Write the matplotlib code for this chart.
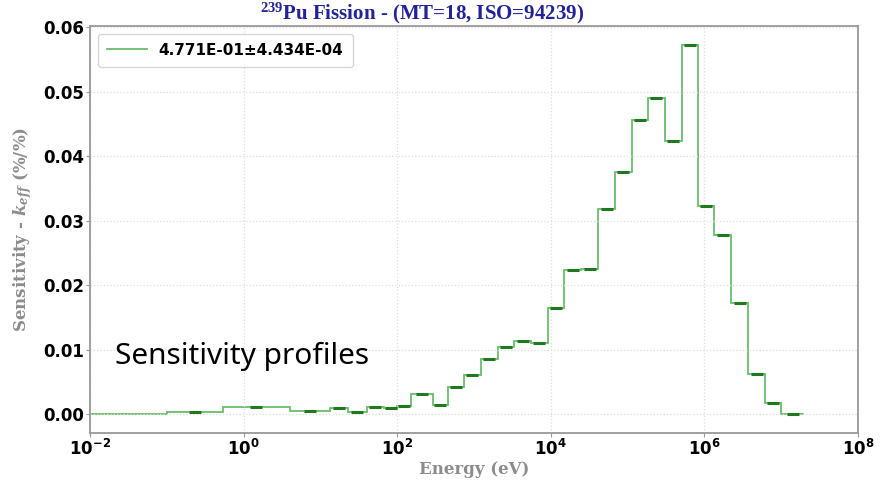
import matplotlib
matplotlib.use("Agg")
import matplotlib.pyplot as plt
import numpy as np

plt.rcParams.update({
    'mathtext.fontset': 'custom',
    'mathtext.rm': 'Liberation Serif',
    'mathtext.bf': 'Liberation Serif:bold',
    'mathtext.it': 'DejaVu Serif:italic:bold',
})

# energy group boundaries (eV) and sensitivity per group
energy_edges = [1e-5, 0.1, 0.54, 4.0, 13.3, 22.7, 40, 67, 100, 151, 292, 455,
                741, 1230, 2030, 3350, 5520, 9120, 15000, 24900, 41500, 68500,
                113000, 183000, 307000, 506000, 833000, 1.35e6, 2.22e6, 3.73e6,
                6.15e6, 1.0e7, 2.0e7]
sensitivity = [0.0, 0.0003, 0.0012, 0.0005, 0.0009, 0.00035, 0.0012, 0.0009,
               0.0013, 0.0031, 0.0014, 0.0043, 0.0061, 0.0086, 0.0104, 0.0114,
               0.0111, 0.0165, 0.0223, 0.0226, 0.0318, 0.0376, 0.0457, 0.0491,
               0.0423, 0.0573, 0.0323, 0.0278, 0.0173, 0.0063, 0.0018, 0.0001]
legend_label = '4.771E-01±4.434E-04'
title = r'$\mathbf{^{239}}$Pu Fission - (MT=18, ISO=94239)'

fig = plt.figure(figsize=(8.93, 4.82), dpi=100)
ax = fig.add_axes([0.1008, 0.1017, 0.86, 0.8443])

edges = np.array(energy_edges)
vals = np.array(sensitivity)
ax.stairs(vals, edges, baseline=None, color='#3aa63a', alpha=0.75, lw=1.3,
          label=legend_label)
centers = np.sqrt(edges[:-1] * edges[1:])
ax.plot(centers, vals, '_', color='#1f7a1f', ms=8, mew=2.2)

ax.set_xscale('log')
ax.set_xlim(1e-2, 1e8)
ax.set_ylim(-0.0029, 0.0602)
ax.set_yticks([0, 0.01, 0.02, 0.03, 0.04, 0.05, 0.06])
ax.grid(True, color='#dddddd', linestyle=':', lw=0.9)
ax.minorticks_off()
for s in ax.spines.values():
    s.set_color('#999999')
    s.set_linewidth(1.3)
ax.tick_params(colors='black', labelsize=12, length=3, pad=1.5, color='#999999')
for lab in ax.get_xticklabels() + ax.get_yticklabels():
    lab.set_fontweight('bold')

ax.set_xlabel('Energy (eV)', family='DejaVu Serif', fontweight='bold',
              fontsize=12, color='#8c8c8c', labelpad=1)
ax.set_ylabel(r'Sensitivity - $k_{eff}$ (%/%)', family='DejaVu Serif',
              fontweight='bold', fontsize=12, color='#8c8c8c', labelpad=6)
ax.set_title(title, family='Liberation Serif', fontweight='bold', fontsize=15,
             color='#222299', x=0.432, pad=3)

leg = ax.legend(loc='upper left', prop={'weight': 'bold', 'size': 11},
                handlelength=2.6, borderpad=0.6, fancybox=True)
leg.get_frame().set_edgecolor('#cccccc')

ax.text(0.033, 0.187, 'Sensitivity profiles', transform=ax.transAxes,
        family='Noto Sans', fontweight='light', fontsize=21.5, color='black',
        va='center', ha='left')

fig.savefig('out.png', dpi=100)
